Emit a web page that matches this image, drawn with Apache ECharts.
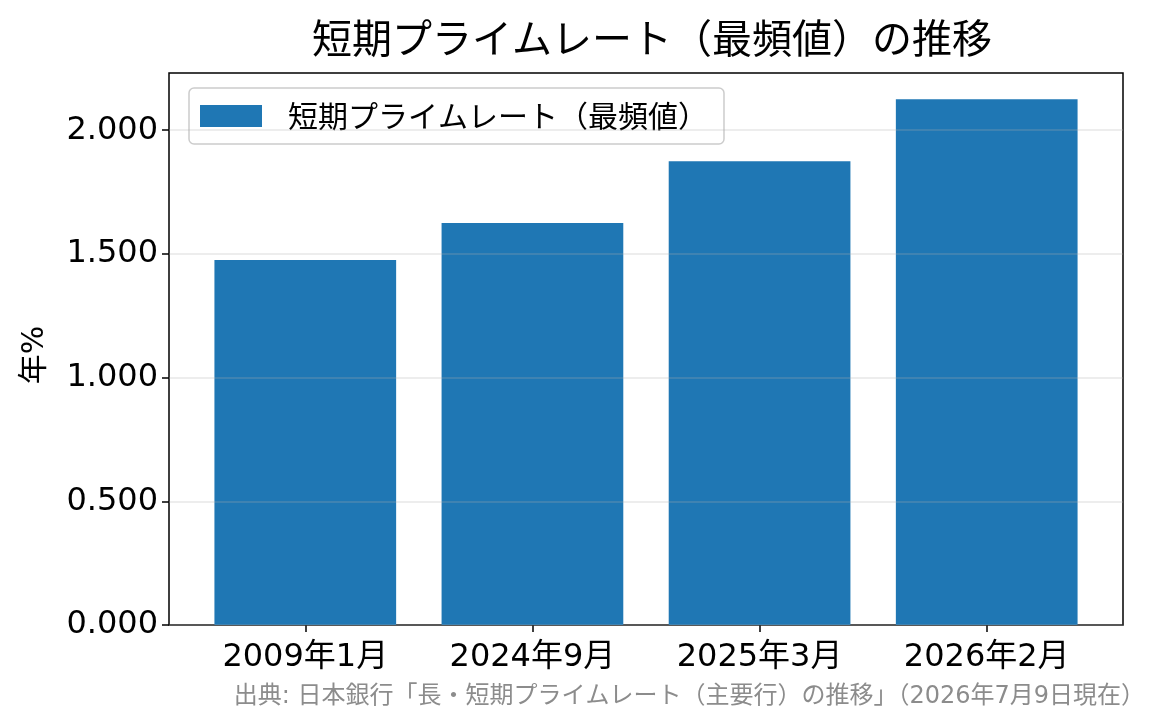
<!DOCTYPE html>
<html><head><meta charset="utf-8">
<script src="https://cdn.jsdelivr.net/npm/echarts@6/dist/echarts.min.js"></script>
<style>html,body{margin:0;padding:0;background:#fff}#c{width:1165px;height:725px}</style>
</head><body><div id="c"></div>
<script>
const categories = ['2009年1月', '2024年9月', '2025年3月', '2026年2月'];
const rates = [1.475, 1.625, 1.875, 2.125];
const yTicks = [0, 0.5, 1.0, 1.5, 2.0];
const seriesName = '短期プライムレート（最頻値）';
const titleText = '短期プライムレート（最頻値）の推移';
const yLabel = '年%';
const sourceText = '出典: 日本銀行「長・短期プライムレート（主要行）の推移」（2026年7月9日現在）';

const FONT = '"Noto Sans CJK JP", "Noto Sans", sans-serif';
const MIXED = '"DejaVu Sans", "Noto Sans CJK JP", sans-serif';
const chart = echarts.init(document.getElementById('c'), null, {renderer: 'canvas'});
const xIdx = categories.map((_, i) => i);
chart.setOption({
  animation: false,
  textStyle: {fontFamily: FONT},
  title: {
    text: titleText, left: 647, top: 13, textAlign: 'center',
    textStyle: {fontFamily: FONT, fontSize: 40, fontWeight: 'normal', color: '#000'}
  },
  legend: {
    left: 189, top: 88,
    data: [seriesName],
    itemWidth: 62, itemHeight: 22,
    padding: [13, 16, 13, 11],
    borderColor: '#cccccc', borderWidth: 1.5, borderRadius: 5,
    backgroundColor: 'rgba(255,255,255,0.8)',
    icon: 'rect',
    textStyle: {fontFamily: FONT, fontSize: 30, color: '#000', lineHeight: 29, padding: [0, 0, 0, 21]}
  },
  grid: {left: 169, right: 42, top: 73, bottom: 100, show: true, borderColor: '#000', borderWidth: 1.5, backgroundColor: 'transparent'},
  xAxis: {
    type: 'value', min: -0.6, max: 3.6,
    splitLine: {show: false},
    axisLine: {show: false, onZero: false},
    axisTick: {show: true, customValues: xIdx, length: 7, lineStyle: {color: '#000', width: 1.5}},
    axisLabel: {customValues: xIdx, margin: 17, fontFamily: MIXED, fontSize: 32, color: '#000',
      formatter: v => categories[Math.round(v)]}
  },
  yAxis: {
    type: 'value', min: 0, max: 2.23125, interval: 0.5, z: 5,
    axisLine: {show: false, onZero: false},
    axisTick: {show: true, customValues: yTicks, length: 7, lineStyle: {color: '#000', width: 1.5}},
    axisLabel: {customValues: yTicks, margin: 11, fontFamily: MIXED, fontSize: 32, color: '#000',
      formatter: v => v.toFixed(3)},
    splitLine: {show: true, lineStyle: {color: 'rgba(176,176,176,0.3)', width: 1.5}}
  },
  series: [{
    name: seriesName, type: 'bar', barWidth: '80%',
    itemStyle: {color: '#1f77b4'},
    data: rates.map((v, i) => [i, v])
  }],
  graphic: [
    {type: 'text', x: 35, y: 355, rotation: Math.PI / 2,
      style: {text: yLabel, fontFamily: MIXED, fontSize: 30, fill: '#000', textAlign: 'center', textVerticalAlign: 'middle'}},
    {type: 'text', x: 1145, y: 697,
      style: {text: sourceText, fontFamily: MIXED, fontSize: 24, fill: '#8c8c8c', textAlign: 'right', textVerticalAlign: 'middle'}}
  ]
});
</script></body></html>
